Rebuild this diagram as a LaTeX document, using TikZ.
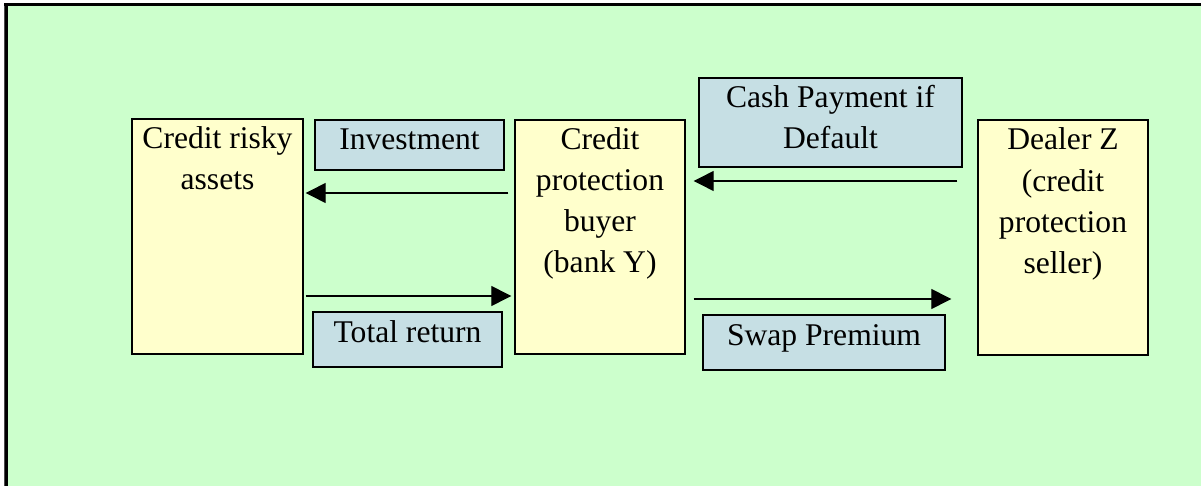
\documentclass[tikz,border=0pt]{standalone}
\usepackage{fontspec}
\setmainfont{Liberation Serif}
\usetikzlibrary{arrows.meta,calc}

\definecolor{pagegreen}{RGB}{204,255,204}
\definecolor{partyyellow}{RGB}{255,255,204}
\definecolor{flowblue}{RGB}{198,223,228}

% box content: width, height, centred lines whose first baseline sits 30pt below the top
\newcommand\boxlines[3]{\parbox[c][#2][t]{#1}{\centering\rule{0pt}{30pt}#3}}

\tikzset{
  boxfont/.style={font=\fontsize{31.6}{41}\selectfont},
  party/.style={boxfont, draw=black, fill=partyyellow, line width=1.4pt, inner sep=0pt},
  flow/.style={boxfont, draw=black, fill=flowblue, line width=1.4pt, inner sep=0pt},
  flowarrow/.style={line width=1.3pt, -{Triangle[length=20pt,width=20pt]}}
}

\begin{document}
\begin{tikzpicture}[x=1pt,y=-1pt]
  \useasboundingbox (0,0) rectangle (1201,486);
  % page background with its top and left rule
  \fill[pagegreen] (4,3) rectangle (1201,486);
  \fill[black!70] (4,3) rectangle (5,486);
  \fill[black] (5,3) rectangle (8,486);
  \fill[black] (4,3) rectangle (1201,6);

  % the three parties
  \node[party] (risky)  at (217.5,236.5) {\boxlines{171pt}{235pt}{Credit risky\\assets}};
  \node[party] (buyer)  at (600,237)     {\boxlines{170pt}{234pt}{Credit\\protection\\buyer\\(bank Y)}};
  \node[party] (dealer) at (1063,237.5)  {\boxlines{170pt}{235pt}{Dealer Z\\(credit\\protection\\seller)}};

  % payment labels
  \node[flow] (invest) at (409.5,145)   {\boxlines{189pt}{50pt}{Investment}};
  \node[flow] (total)  at (407.5,339.5) {\boxlines{189pt}{55pt}{Total return}};
  \node[flow] (cash)   at (830.5,122.5) {\boxlines{263pt}{89pt}{Cash Payment if\\Default}};
  \node[flow] (swap)   at (824,342.5)   {\boxlines{242pt}{55pt}{Swap Premium}};

  % payment flows
  \draw[flowarrow] ($(buyer.west |- 0,193)+(-6,0)$) -- ($(risky.east |- 0,193)+(2,0)$);
  \draw[flowarrow] ($(risky.east |- 0,296)+(2,0)$) -- ($(buyer.west |- 0,296)+(-3,0)$);
  \draw[flowarrow] ($(dealer.west |- 0,181)+(-20,0)$) -- ($(buyer.east |- 0,181)+(8,0)$);
  \draw[flowarrow] ($(buyer.east |- 0,299)+(8,0)$) -- ($(dealer.west |- 0,299)+(-26,0)$);
\end{tikzpicture}
\end{document}
